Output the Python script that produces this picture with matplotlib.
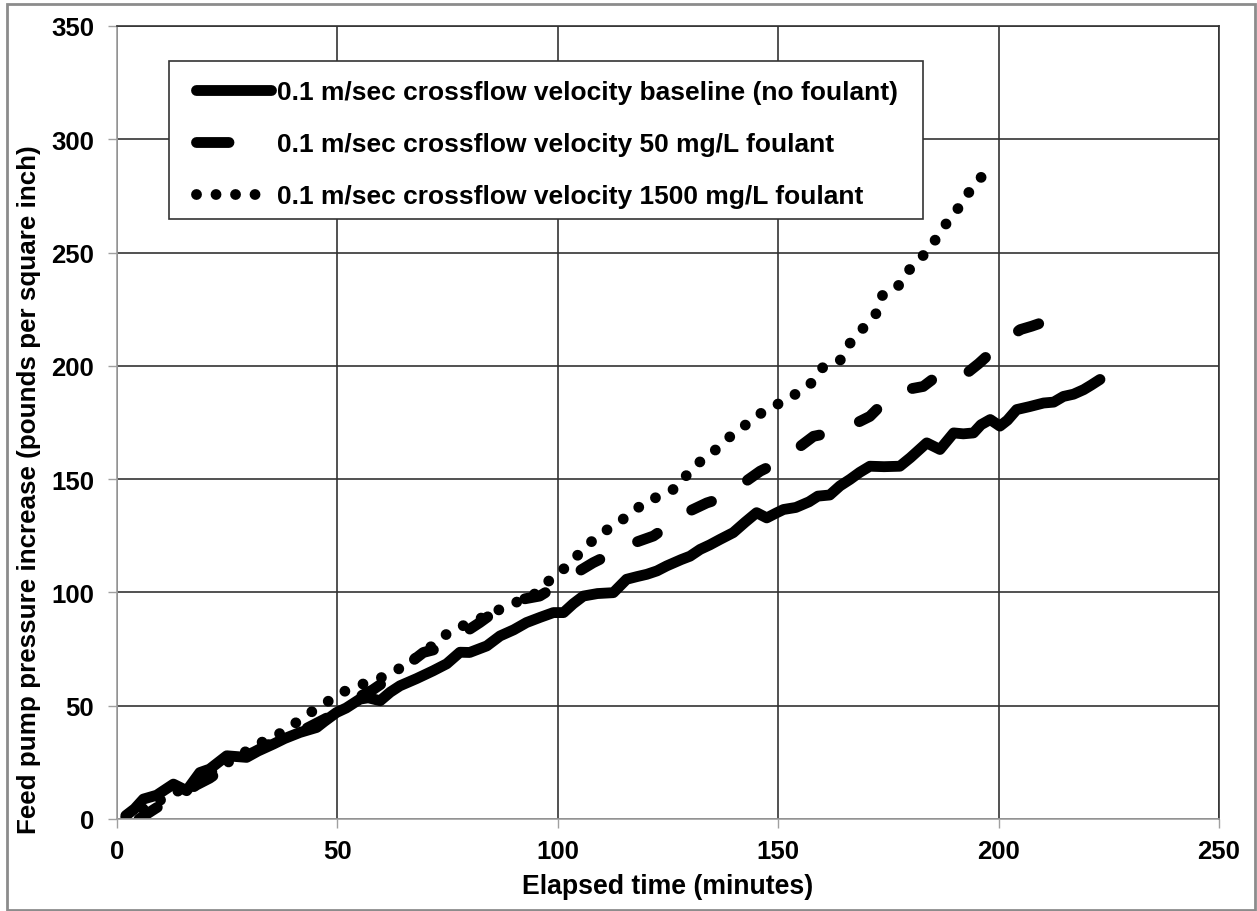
import matplotlib
matplotlib.use("Agg")
import matplotlib.pyplot as plt
from matplotlib.patches import Rectangle

plt.rcParams['font.family'] = ['Liberation Sans', 'DejaVu Sans']
plt.rcParams['font.weight'] = 'bold'

# Baseline run, no foulant
t_base = [2, 4, 6, 9, 12.8, 15.8, 18.8, 21, 24.9, 29.4, 32, 35.5, 38, 41.5, 45.3, 47,
          49.8, 52, 55.1, 57, 59.7, 62, 64.2, 68, 71.7, 74.8, 77.8, 80, 83.9, 86.9, 90,
          92.9, 96, 99.0, 101.3, 103.5, 105.8, 109, 112.6, 115.6, 118, 120.2, 122.5,
          124.7, 128, 130, 132.3, 134.5, 136.8, 139.8, 142.5, 145.1, 147.4, 149.5,
          151.2, 154, 157, 159, 161.7, 164, 166.3, 168.5, 170.8, 174, 177.6, 180,
          183.7, 186.7, 189.8, 192, 194.3, 196, 198.1, 200.3, 202, 204.1, 207, 210.2,
          212.5, 214.7, 217, 219.3, 221, 223]
p_base = [1.5, 4.5, 8.8, 10.5, 15.4, 12.5, 20.5, 22, 27.9, 27.2, 30, 33.1, 35.5, 38.2,
          40.4, 43, 47, 49, 52.9, 53.5, 52.2, 56, 58.8, 62, 65.4, 68.5, 73.6, 73.5,
          76.4, 80.8, 83.5, 86.7, 89, 91.1, 91.1, 95, 98.4, 99.5, 99.9, 105.8, 107, 108,
          109.5, 111.7, 114.5, 116, 119, 121, 123.4, 126.4, 131, 135.2, 132.9, 135,
          136.6, 137.5, 140, 142.5, 143, 147, 149.9, 153, 155.7, 155.5, 155.7, 159.5,
          166, 163.1, 170.4, 170, 170.4, 174, 176.3, 173.4, 176, 180.7, 182, 183.6,
          184, 186.5, 187.5, 189.5, 191.5, 194]

# 50 mg/L foulant
t_50 = [5, 7, 9, 12, 15, 18, 21, 24, 27, 31, 35, 39, 43, 46, 49, 52, 55, 58, 61, 64,
        66.5, 69.5, 72.5, 75.5, 79, 82.3, 85, 88.4, 92, 95.9, 98.5, 101.3, 104.5, 108,
        110.5, 113.4, 117.5, 121.7, 124, 126.2, 130, 133.8, 137, 140.6, 143, 145.9, 149,
        151.9, 155, 158, 161.7, 164, 167.5, 170.8, 173, 175.4, 179, 182.9, 185, 187.5,
        190, 192.8, 195.5, 198.1, 201.5, 204.9, 207.5, 209, 211]
p_50 = [0, 2.5, 5, 8, 11, 15, 18, 22, 26, 29.5, 33.5, 37, 40, 43, 46, 50, 54, 57, 61,
        64.5, 69, 73.5, 75, 79.3, 82.5, 86.7, 90.5, 95.5, 97, 98.4, 101.5, 105, 109,
        113.1, 115.5, 119.7, 122, 124.9, 128, 132.9, 136, 139.5, 141.5, 145.5, 149.5,
        153.5, 156.5, 160.1, 164.5, 168.9, 170.4, 172.6, 174.5, 177.7, 182, 186.5,
        189.5, 190.9, 194, 198.4, 197.5, 196.8, 201, 205.6, 211, 216, 217.5, 218.5, 220.4]

# 1500 mg/L foulant
t_1500 = [2, 5, 8, 11, 14, 17, 20, 23, 26, 29, 31.7, 35, 39.2, 42.6, 46.4, 50.2, 54, 58,
          61.5, 65.7, 70, 73, 76.3, 80.4, 84, 88, 92.2, 95.5, 99, 102.8, 105.6, 109.3,
          113, 116.6, 120, 123.8, 127.4, 130, 132.9, 135.9, 139.2, 142.7, 146.2, 150.2,
          153.5, 157.2, 160, 164, 166.3, 169.3, 172.3, 173.8, 177.6, 180.1, 183.4, 186.1,
          188.7, 191.6, 194.1, 196.9]
p_1500 = [0.5, 3.5, 6.5, 9.5, 12.5, 16, 19, 22.5, 26, 29.5, 33, 35.5, 40.4, 45.5, 49.9,
          55.1, 58.4, 61, 63.5, 68.3, 74, 79, 83.8, 86.6, 90, 93.5, 97, 100, 107.2, 112.4,
          119, 125.2, 130, 134.7, 140.3, 142.9, 146.8, 153.9, 158.7, 163.1, 169, 174.1,
          179.2, 183.4, 187, 191.7, 199.1, 202.3, 210, 216.7, 223.3, 231.9, 235.8, 243.4,
          249.7, 256.8, 264.5, 271.4, 279.2, 285]

labels = ['0.1 m/sec crossflow velocity baseline (no foulant)',
          '0.1 m/sec crossflow velocity 50 mg/L foulant',
          '0.1 m/sec crossflow velocity 1500 mg/L foulant']

W, H = 1257, 912
fig = plt.figure(figsize=(W / 100, H / 100), dpi=100)
ax = fig.add_axes([117 / W, 1 - 820 / H, (1219 - 117) / W, (820 - 27) / H])

lw = 7.8
ax.plot(t_base, p_base, color='black', lw=lw, solid_capstyle='round',
        solid_joinstyle='round', label=labels[0])
ax.plot(t_50, p_50, color='black', lw=lw, linestyle=(0, (2.0, 3.9)),
        dash_capstyle='round', dash_joinstyle='round', label=labels[1])
ax.plot(t_1500, p_1500, color='black', lw=lw, linestyle=(0, (0.001, 1.8)),
        dash_capstyle='round', label=labels[2])

ax.set_xlim(0, 250)
ax.set_ylim(0, 350)
ax.set_xticks(range(0, 251, 50))
ax.set_yticks(range(0, 351, 50))
ax.grid(True, color='#333333', lw=1.2)
ax.set_axisbelow(True)

for side in ['left', 'bottom']:
    ax.spines[side].set_color('#a0a0a0')
    ax.spines[side].set_linewidth(1.2)
for side in ['top', 'right']:
    ax.spines[side].set_color('#333333')
    ax.spines[side].set_linewidth(1.2)

ax.tick_params(axis='both', direction='out', length=6.5, width=1.0,
               color='#a0a0a0', labelsize=18.5)
ax.tick_params(axis='x', pad=8)
ax.tick_params(axis='y', pad=10)
for lab in ax.get_xticklabels() + ax.get_yticklabels():
    lab.set_fontweight('bold')

ax.set_xlabel('Elapsed time (minutes)', fontsize=19.2, fontweight='bold', labelpad=7)
ax.set_ylabel('Feed pump pressure increase (pounds per square inch)', fontsize=18.7,
              fontweight='bold')
ax.yaxis.set_label_coords(-76 / 1102, 0.416)

# legend box drawn on its own, legend entries placed inside it
ax.add_patch(Rectangle((169 / W, 1 - 220 / H), (923 - 169) / W, (220 - 62) / H,
                       transform=fig.transFigure, facecolor='white',
                       edgecolor='#333333', lw=1.2, zorder=4.9, clip_on=False))
leg = ax.legend(loc='upper left', bbox_to_anchor=(179 / W, 1 - 64 / H),
                bbox_transform=fig.transFigure, borderaxespad=0, frameon=False,
                handlelength=2.85, handletextpad=0.2, labelspacing=1.06,
                borderpad=0.65, prop={'size': 19, 'weight': 'bold'})
leg.set_zorder(5)
# single dash in the legend sample for the 50 mg/L run
leg.get_lines()[1].set_linestyle((0, (3.0, 10)))

# grey frame round the whole figure
fig.patches.append(Rectangle((7 / W, 1 / H), (1255 - 7) / W, (907 - 1) / H,
                             transform=fig.transFigure, fill=False,
                             edgecolor='#8c8c8c', lw=2))

fig.savefig('out.png', dpi=100)
